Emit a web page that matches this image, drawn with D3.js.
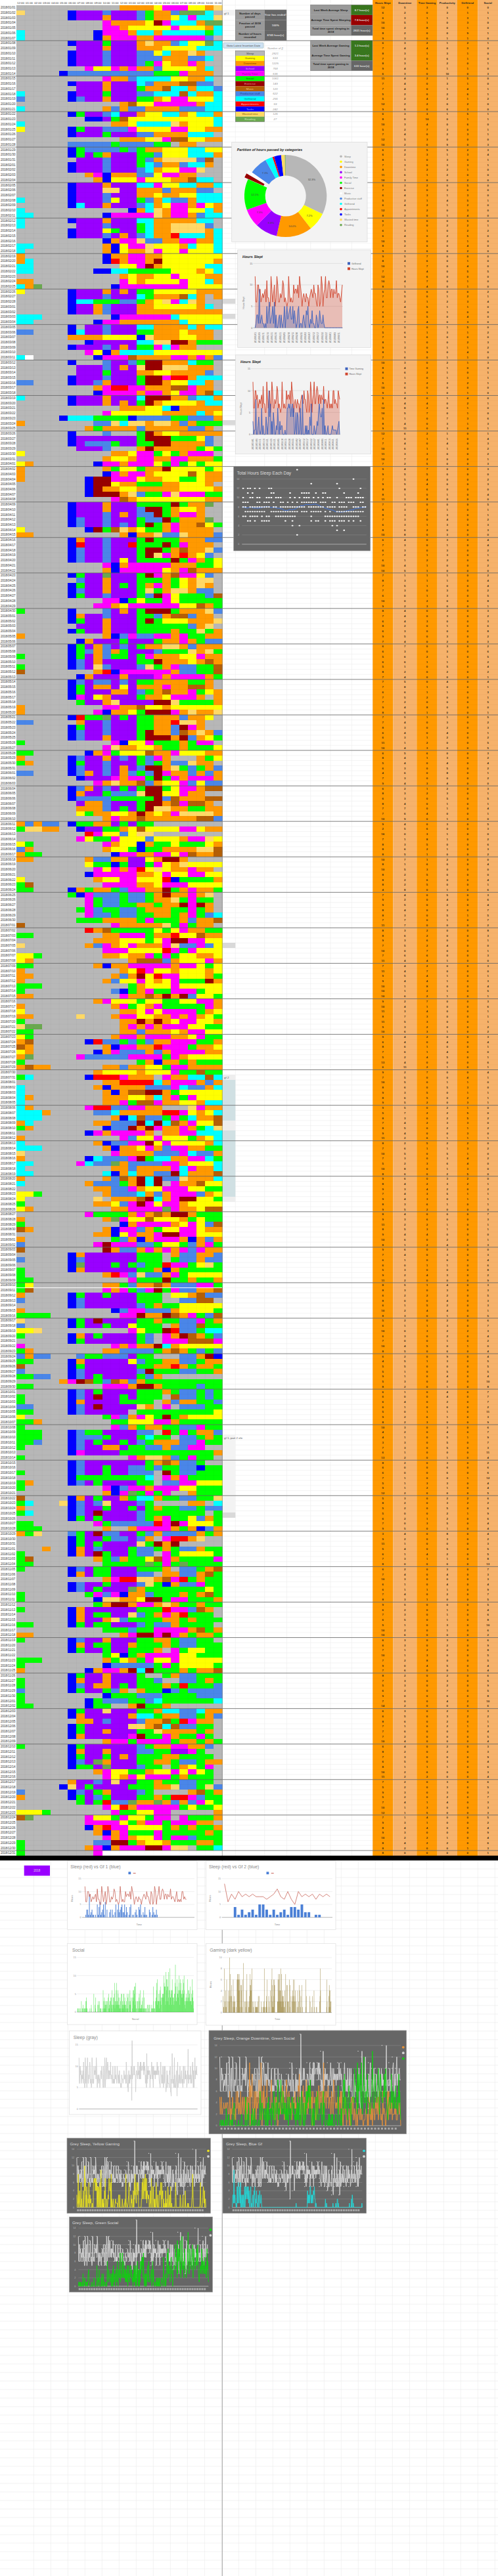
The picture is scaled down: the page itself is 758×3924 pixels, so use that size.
<!DOCTYPE html>
<html><head><meta charset="utf-8">
<script src="https://cdn.jsdelivr.net/npm/d3@7/dist/d3.min.js"></script>
<style>html,body{margin:0;padding:0;background:#fff}svg{display:block}text{font-family:"Liberation Sans",Arial,sans-serif}</style>
</head><body><div id="c"></div>
<script>
// ---------- DATA ----------
const hourLabels=["12:00","01:00","02:00","03:00","04:00","05:00","06:00","07:00","08:00","09:00","10:00","11:00","12:00","01:00","02:00","03:00","04:00","05:00","06:00","07:00","08:00","09:00","10:00","11:00"];
const categories=["Sleep","Gaming","Downtime","School","Family Time","Social","Exercise","Music","Productive stuff","Girlfriend","Appointments","Tasks","Wasted time","Reading"];
const categoryKeys=["s","g","d","c","f","o","e","m","p","h","a","t","w","r"];
const categoryColors=["#b7b7b7","#ffff00","#ff9900","#9900ff","#ff00ff","#00ff00","#980000","#b45f06","#4a86e8","#00ffff","#ff0000","#0000ff","#ffd966","#6aa84f"];
const categoryTextColors=["#444","#7f6000","#7f3f00","#d5a6ff","#a000a0","#006600","#e6a0a0","#f0c080","#1c3f8a","#007070","#ffb0b0","#a0a0ff","#7f6000","#c8e6b0"];
const categoryCounts=[2821,633,1225,768,636,1061,149,120,622,256,59,242,126,27];
const tableHeaders=["Hours Slept","Downtime","Time Gaming","Productivity","Girlfriend","Social"];
const tableKeys=["s","d","g","p","h","o"];
const gf2Sleep=[13,6,9,7,10,8,9,8,9,8,8,8,7,8,9,11,8,7,10,7,5,10,8,9,8,9,7,9,8,9,8];
const gf2Hours=[0,0,0,4,1,3,1,2,3,1,5,5,3,1,3,1,2,3,1,4,4,3,5,2,2,0,1,1,0,0,0];
// each day: run lengths of the 24 hour cells, letter = category key, n = empty
const jan=["12s4d1g3f2g1d1w","1w5s1t3c1p3c1p1o2d1p3r1h1s","6s1t3c1d3c1p1o2d1g1h1f2h1w","10s1f4d1g1e1f3h1d2r","10s2f1d5g1f3g1d1h","1h8s1t3f1d2h1d5h1o1h","1h8s1t1d3f2d6f1p1s","6s1t3c1o3c1d1w2d1p1h2g1r1h","7s3c1d3c3d4g3h","6s1t3c1p3c2p1g1h2d1w1d2s","6s1t3c1p3c3p3d2p1h1s","6s1t3c1p3c1p1o1f1g2d1f1d2s","8s1f2g1f1d1f2d1p4g1d1h1s","5s1t10p3o1f3d1s","10s1f2d1p4h2g2d1h1s","6s1t3c1d3c1h1p3d2m2p1s","7s3c1d3c1o2d1m2h1d2h1p","1h5s1t3c1o3c2p3h1m1h2d1h","1p5s1t1p2c1d3c2o1d1g2f3g1h","12s1d1m2g5f1d2h","1h9s1d1p1d2p4d3p2h","6s1t1o2c1p1h2c1d2g2h1d1g2h1d","8s2t1c1o1m10g1h","1h10s2d1g4h1w1d3g1h","1g5s1t1o2c3p1f4g2f2g2d","6s1t3c1o3c2p4d3h1s","12s3d1g1w1f2m2g2d","6s5p1o4p2o1s2d3s","6s1t1o4p1o1p1o2d3g2h2g","6s1t1o1c1o1d3c2o1p3g3h1d","7s3c1p3c1o1p1d4w1p1m1s"];
const feb=["6s1t3c1p3c1o1h1p2d1p2h1d1s","6s1t3c1p3c1p1h1d2g2f1w2s","8s1d1f1t3d2p1g2f2d3s","9s1d1t3g1f3g2d1m2h1s","6s1t3c1d3c2h1f2g2h2d1h","6s1t3c2w2c3d1p3d2p1s","6s1t3c1p3c2d1g2d2g3h","1h5s1t3c1p1g2c1o1p1d1h2p1d3h","6s1t1h2c1d3c1p1h1d1g2f1d1f1g1d","1h12s1t1d1h1w1d2f2g1h1d","2h8s1t5f1w1d2f1d1p2h","1h5s1t3c1d3c2h5d2h1s","1h6s3c1p3c1o1h2d4w1p1s","6s1t3c1g1o2c1o1h2d4w1d1h","6s1t3c1p1c1d1c1p1h2d1a3h1d1h","10s1t1d2f1w2p2d2f2d1h","2h8s1d1t1g2f1w3g1d1h2g1h","1h9s1d1t1g2d1w1f2g1f3g1h","1d9s1t2d2f2d7g","1d1h8s1t1a1d2f1d1e6g1d","2h9s1s2g1f1e1d5g2h","2h7s2t2h5o3g1d1g1h","12s1d1g2d2g1f3g2d","2d10s1f1g1d4g1f2g1h1d","1h1d1r8s1t8f4g","1g5s1t3c1d1c1d1c2o5g3d","6s1t3c1p3c1h1o3d1m1h1d1s1d","6s1t2h3o2p1o1d1g1w1f1h1w1d2s"];
const mar=["6s1t2c1d1p3c2d5g1d1h1s","6s1t2c1d1p3c10d","3h8s1t6f1h5g","2h7s1t2f1d6d1h4g","6s1t1s2c1p3c2h4d1h1d2h","2p4s1t1h2c1p3c2o3d1g3d1s","6s4d4g1t1w3d2g2d1s","8s1t5c2h2w2e1d3o","6s1t3c1p1c1d1c2o1f1h1f2d3s","8s1f1g1t1d4h8g","1h1n7s1t3f1m4d2f1d1f1d1p","6s1t3s1p2c1p1o2e3d1h2o1s","7s3c1p1c1d1c1w2e3w3d1s","7s3c1o3c2d2g4d1p1s","6s1t3c1p3c1o2e1f2a1d3h","2p4s1t2c1p1d3c1o2e1d2g2h1d1s","9s1d1f2a2f3d2m1f2d1s","9s1t4f1d2f1d1g2f1d1m1h","1h5s1t3c1d3c1h3e2d1p2h1d","6s1t3c1d1c1d1c1o1e1d4g1d2h","12s3d2g1h1t5d","10s1f6g3d1d1h1d1g","5s1t3h4o1t4p2o3p1d","1d8s2p1w1h2w1d2w1d1p1d3o","8s1d1o4d1p5d2p1d1s","6s1t3s1p3s1o1e1d2g5d","6s1t7c1o3e3o1g1p1s","6s1t1c3p1o2c2o2e4d1p1s","7s3c1p3s1d1e5d1o1g1o","1g10s2d1g2f1o1g1o1d3f1s","10s1d2g1d2f2d2f3d1o"];
const apr=["1g1d7s1t2f1d3f1g1o1f1o1g1o2g","1d9s1d1o2g1o2d1e4g1o1g","1d9s1t1f1d2f1d4g1m1g2d","1d7s1t2e3f1g2d2g2o1g2d","8s1t2e1g2d3o2d3g1d1s","8s1t1e1d1d2g5d4g1d","8s1t3e1d1w1p2o1f1w3f2o","11s1f1m1d8g2d","6s1t3c1d3c4o1e1o2d1r1s","6s1t3c1d3c1p2e1o1d2g1d2s","6s1t3c1p1c1d1c2p1e1o1d2f1d2s","6s1t1p2c1p3c1o2p1e1o3d1r1s","6s1t1p2c1p1c1p1c1o1e1o1d1f2d1m1g1o","1g7s1t1e1o1m1w1d1g2o1d1f4d1s","2d10s1d1t2d1w2p1w3d1p","6s1t1d2c1p3c1o1e3o3d2p","6s1t1a2c1p2c1a3o1e1o1f3d1s","6s1t1p2c1p3c1o2e1o1d1m2d1w1p","6s1t1p2c1p3c1o1e1w1f1d1a1d1g1p1s","6s1t1p2c1p1c1g1c4o1e1o1f1d1o1g","10s1f1t1d5f3d2o1g","10s1d1t5f1g1d1f1m3d","6s1t1o2c1r3c1o1e1f1d1m2f1g1p1s","7s1p2c1d3c3o1d1o1g1d2w1s","6s1t1o2c1d1c1o1c1o1d1f1d1o1g1d1w1d1s","6s1t1p2c1d3c1o1w1o1d2w1d2p1s","6s1t1o2c1p3c1o1p1e1f1g3o1p1m","10s2f1t1o1g2o1f1g5o","9s2f1d1g6f2g1m1d1o","1o5s1t3s1p1c1d1c1o3e1o3d1w1p"];
const may=["6s1t1d2c1p3c2o1p1d2m1p1d1d1s","6s1t1o2c1d3c1o1e1o3g3d1w","7s3c1d3c6o1p1d1w1s","6s1t1o2c1d3c4o1d2o1w1o1d","1d9s1d1t1p1f2p2f1d1f2o2d","7s1t1d3c1o3c1o2d1f1d1o2p","6s1t1o1c1d1p1c1p1c1o2d2w1d1p3d","6s1t1o1p1d1p1d1o1c2c1p3o1w1d1w1o","1o5s1t1o1c1d1p2o1c1o1f3d2g1f2d","6s1t1p1c1d4c2o1e3d1g1d1m1d","1o5s1t1p1c1w1p3c1p1w1o1d1f2p2o1m","1m8s1d1a1t5f1f1d2p2o1m","7s1t1d3c1d3c1f1d4f1d1o","6s1t1p1c2p1c1p1c2o4d2o1d1s","6s1t1o1c2d1c1g1c3d1f2d2m1d1s","6s1t1o3c2d1c1p1o1d1m2d1f1o1g1d","6s1t1f1c1g1d3c1o2d1g3f1d1s1d","7s1o2c1d1w4c2e1w4o1d","1d9s2f2d1m2g1d6g","1d8s1f1t2d1g1o3e1f1d1w2d1w","6s1t1a2o1r1c1o1c2o3d1p2d1g1s","2p5s1d2c1p3c2o2d1a2w1d2s","6s1t1o2c1p3c2o2d1p1e1f1d2s","6s1t1p2c1p3c1o1e2d1p1m1d1w1d1p","6s1t1p2c1d3c1o3e1d1e1p1d1g1o","1o10s1f1t2g1f3o1d1o2f1s","10s1f1w2d2g1d2o1d3o1g","2o6s1t1d1f1o3g1m2d1f3g2d","1d5s1t1p2c1d1c1p1c1o1p1f1d3s1d1o1g","1o1d4s1t1o2c1p3c1o1p1o1d2p1w2d1s","6s1t1p2c1p1c1d1c1p2e1d1w1o1p1o1d1p"];
const jun=["2p4s1t1p1d1c1p1c1d1p1o1p1e1f2d1p1d1p1d","7s1t3c1f1d2f1o1e1o1f1d3f1d","9s1f1d1w2d1m1p1d2g1f1p1g2p","6s1t1p1d1c1p1c1o1c1o2e1o1g2f1d2m","6s1t1d2c1o3p1w2e2g1f2d2s","6s1t4p5o1e1p1m3d2m","7s1c2d1p3c1o2e1d1m1f2m1d1s","7s3d1p1c1o1c1o1e2w2d2o2d","7s1g1o2d2g1d1e1d1g1d1f4w1d","10s1d1f2d1m6d2m1p","1d1p1d2p1s1t2o2d1c1o1c2o8s","1o2w2d2s1t2c2o1d1g1m4g2f1g2d","8s1a1f2g1p1g2w8s","7s1f1g2o1f3g1p3g1d2f1w1g","1g1o8s1f1d2g1t1d2o1g3o1g1d","1p1d8s1d2g1o1t2o4d2w1m","1d2o8s1t2f2d2f1g1f1m2d1m","2d6s1d2p2d2c1g1d2e1d4s","8s1g2o1t1o2c1o1f1g1d1w4g","9s1f1g1f1d1f1a1g1w1g2d1f2d1s","8s1t5f2d1g1f2g2f2g","1g8s1d2g2f3g1a1t4o1d","1o1m8s4f2d1g3f4g","2o4s1t1d1o2d1o1p2f2d1e1o1d1f2d1o","6s1o1t1f3p1o2p1o1d1e2d1f1d1w1s","8s1f1o2p1o2p1o2d1w1o1f2o1s","8s1f1o2p2o2d1o2d1e1f1e1d1s","7s1o1f1p2o2p1o3d2o1f1o1d1s","8s1f2p1o2p2o2d1o1d1f1o1p1h","7s3o4d1o1f3o1d1p2d1m"];
const jul=["1m10s1f5d1w1o1f1o2d1s","8s1a1d1m5o1g1o1g1f2d2o","2o8s2d3f1o2d1a2g1m2d","9s3d3g1o1g1f2e2f2g","1w7s1d1p1f1d1g1f3d1f1w2p1f1p1g","10s3f4g1a1f1o1f3g","2g1o7s2d1g2d1f1o1f1o2g2d1g","1g1d11s1d3m1p1d3g1f1d","2o7s1d1t2d5f1d2f1g1o1g","1d11s1d1g1a1f2g1d3g1d1g","2d9s1d1p1d1e1g1a2f3g1d1o","1d9s1d1p2g1f1g1d1g1f3o1e1d","3o10s1o1d3g1f5g","1o10s1p1t1o1d1f2o3f1o2g","2d10s1f2d1m1d1e1d1e1p2g1o","9s1d1f3g1o2g2o2g2f1d","1d10s1d1f1o1g1d1f5o1f1d","1g11s2d1g1f1g4f1o1d1g","2d5s1w3s1d2f2g2d1f1d1f1d1g1o","1o11s2d1e1d1e1d1g2f2g1d","1w2r9s1d1f1d1f1d3f2g2o","2o10s2d1p3d1g1d2f2g","1g1o9s1d2f1d3f2d1g1f2o","1d1m6s1t1a2p1o1p1o1p2d3f2o1d","1m1d8s1d1t2f2d1a3f1o2d1g","1g1d7s1t1d1f3p1d1p1d4f2d","1d1r5s1f5p4f1o1f1d4g","1o13s1o1d1t2d1o1d3o","1d1m2d6s2d1p2d2g1o2f4d","9s1d4g1d3g1f2o1m2o","1o1h6s1t3a1f3d1s1f2d2h1m1h"];
const aug=["10s2d4a1h1d3f1d1p1d","1h8s1d1t4d3p1f1h2p1d1h","1h9s1d1t1d2m2e1d1o5g","1h1d8s3d2g1d1h1d1f1o1f3g","1h9s2d1f1o2m1f2d2g1d2h","1h1d6s1f2a2p2f2d3s1w1f2d","3h1d5s2p1h5d2a1f1g1d1g1h","3h8s1d1t1h1m2p1o1f1o1h2d1m","1d1h7s2d3p1e1h1e1h1m1d1f2g1m","1o1d8s1t2p1e1d1e1f2d1f1d1o1h1w","8s1t1f1d4f1d1s2d2f3h","1d11s1f1p2g1f3g1o1d1g1h","1h8s1d1t2p2f1e1g1f4g1d1h","3h7s1d1t2d1g1f1d1p2f2d2o","1w10s1f4d3p1f1h2p1d","1d7s1t1h3p1f1e1o2h2d2f1h1o","2h5s1f1h2p1r1d4p2f1d3g1h","1h10s2d1p4d1f1h1f2d1h","2h8s1h1t1d1h2d2p1e1h3d1m","1d9s1d1p1m1d1e1h1e2p1w3d1h","1h7s1d3p1o1d1e1h1e1s1f2d1m2g","9s2d2p1f1d2g3f2g2o","2g1o7s1d3p1h1d1p1d3f1p1d1g","1g8s1w1s3d1m1e1h1d1f2e2g1o","1o8s2d1g1p1f1e1f1g2f1d4g","1g1d9s2d4f1r1f2d1g2m","8s1f4o1d1f1d1m1d2e1d3o","1d9s1d1r1f2g1m3g1d1o1g2o","1o11s1t1d4f1d1g1f1g1p1m","1m1d8s1d1t2f1p1d1o2g2f1g2d","9s2d1t1g1f2d1f2e2f3g"];
const sep=["1d10s1o1p1d1t1d3f1d1t1d1p1d","1p8s1f1e3f2p1o2g1o1p1d1f1o","1m9s1e1d2p1d1f1d1f1d1f1p1f2d","6s1t1d6c3o1s1d2p2d1p","1p5s1t1p6c3o1s1o2p1d2p","6s1t1r3c1o1c1o1p2o1a2f1o1g1w1o","1o5s1t1d6c2o1d1t1d5o","1o9s1d1a1f1p1w2p1d1f1o4g","2o11s1f3o1e2o1d2o1d","1o1g8s2d1o1p2d1m1d3p2f1o","1o1m8s1f1d1f1o1p1f1e1o1f2p2d1m","1d5s1t1o2c1o3c3o1s2g1d1m2p","1p5s1t1p6c3o2s2p2m1s","6s1t1p6c1p1o1d2o5g","1d10s1t1p2f3p1d4g1o","4o8s2f1e2d1e1m1d1f1o1p1m","1w5s1t1o1c1e4c2o1d2o2p1f1o1d","1p5s1t1o2c1o2c1g3o1s1d2p1m2o","2g1w10s1f1g2o1e1a2p1o2h","1o5s1t1d1c1o4c1o1p1s1f1d1e1m1d1o1p","6s1t1o6c1o1p1s3f3m1f","1f10s1f1d1f2d1e1h1d5g","1o1d8s2d4p1o1d1m1d1o1p1o1p","1p1d2p3s1p2o3p1c2o3s2p1d1e1t","2o4s1t1d5c1g1p2o2d2p1o2d","1m5s1t1o6c2o2d1a1d1o2d1o","1p5s1t1p6c1p1e3o2p2o1d","2o2p2s1t1p1c1o4c1o1p1d7s","5s1d1f1e1m1o1p1m1d1p1d9o","2o8s3f1d2e1d4o1p2o"];
const oct=["6s1t1p1c1o4c3o1d1o2p1o1p1o","1o5s1t1p1c1e2c1o1c3o1s1m2p1o1p1o","1o5s1t1d4c4o1s1d1p2d2o1p","2p4s1t1p1c1e4c1w1d1s1f1s3p2o","2o4s1t1p5c1s9o1g","1g9s1o1f1p1d1f1g1o1e1o1d4g","2o1d8s2o3g2f1d5o","1o10s1f1p1d1o2d2o2p1f2o","3o3s1t1p2o4c2p1s1a1o1f1o2d1p","3o3s1t3p1o3c1o1h2o1s2p1o1d1o","2o1p3s1t1p1c1o2c1o1c1p1o3d2p1f2o","1o5s1t1p2c2d1c2o2p1d2p2f2s","6s1t1f4c11o1d","1o12s1f1d2w1d1p1o1f2o1s","6s1t1p7c1o1d1m1d2p1o2s","6s1t1p2c1o2c2p1o1p2o2p1t2o","1o5s1t1p2c1o2c3p1s1e1o2p3o","6s1t8o1h1s1f1d1f4o","1o1d4s1t1p1c1o4c2o1s2p2f3g","1o9s1f1t1p2f1d3f2g3o","10s1d1t1f1r1o1f1o1f2s1d3o","1m5s1t1d1c1o2c1d1o2h1d2o2p2o1w","1o1h3s1w1t1p1c1p1w3c1p1o4s2d1s1h","1d5s1t1p2c1o2c1o1c1o1d2o2p1o2p","1o1h4s1t1p1c1e4c1p7o1s1o","6s1t1o1c1o4c1p1o1d1f2o1g1p1d1o","2o7s1f1o5p1a1f1e1f3g1o","3o7s1d2s1d4f1d1o1d1t1p1d","1d1o1w3s1p1o1c1e2p2c1o1p1d4p1d1o1d","6s1t1o2c1o2p1c1p1d1s1f2a1d1w2s","6s1t1o1c1o4c1w1o1e1d1e5s"];
const nov=["3s1d2s1t1d1c1p3c1o2p1o1d1o2p1d2o","1o5s1t1d1c1e1o2c1o2p1s1f1o4g1o","1o1m7s1d1o1p1d2o1g1m1f1d4o1f","2o8s5o1r1o1f1o1r4o","1o5s1t1p1c2o3c3o1d1s2p1o1d1m","6s1t1d1c2o3c2p1s2d2p1d1m1o","10s1d1f2a2w1d1m1f1a1o1d2o","6s1t1p2c1o3c1p1w1o1t1d2p1f2o","6s1t1p1c1o3c1r1d7o1g1o","1o7s1o1f1p1f1t2d1p3o1d1o1d1m1o","1o8s1t2w2d1g2e1o2f3o1d","9s1o1d2e1d2f1d1w1d2o1d2o","1o5s1t1d6c3o1a2f1p1m1d1s","6s1t1d1c2o2c1w1p1o1d1f1d1a3o1s","6s1t1d2c1d1w1p4o2d1o1d3o","2o4s1t1o1c2o3c1p1o2p1d4o1s","10s3o1p2o4f1d1m1o1d","2d10s1d1f2e1f1e1f1d1o2d1o","1o5s1t1p2c1d3c2o2d1o2p2o1s","6s1t1d1c2o2c1d3o1d1o2p3o","6s1t1o2c1o2c3o1d1s1f1o2g2o","10s1o1g1t1o1d4f2g3o","3o7s1d1o1g1d1o1f2g1f5g","1o9s1t5p1o1f1o4g1o","1d7s1t1d2f1d1e1h1e3o1d1o2d1m","6s1t1o2c1d3c1o2s1o1d2p3o","1o5s1t1d2c1d3c2o1p2s2p1o1d1o","1o5s1t1p1c2d1c1o1c3o1d1o1a3o1p","1p5s1t1o2c1o1p1d1s1d2o1t1p1o4p","1o9s1t3o3p4o3p"];
const dec=["1o7s1t1o3p2o1p1h6o1h","2o6s1t2o2s1d1e2o1d6s","6s1t1o2c1w3c2o1d2h2p1h2d","6s1t1d5c1d2h1o2d2p1o1d1p","7s2d1c1p3c1p2d1m1o1a1f2d1s","6s1t1o5c2w1d1m1h1m2p2o1s","6s1t1o2c1d3c2o1w4d1o1d1s","6s1t1d5c1f1e2o1f1d2o1f1o1s","10s1d2f1o4f1o2d1o1d1o","1o5s1t1o6c1p1o2d2f2d1p1s","6s1t1d2c1d3c2p2o2c1f1o2s","6s1t1o2c1o1c1d1c3o2d4o1s","6s1t1p1c1r1d3c2o2d1o2p1o2d","6s1t2o1c1r3c1p2o1s1o1d1g1o1f1s","9s1d1f2g2o1d2g1f1g1f1g1o1s","10s1f1g1d1f1g3f1o1d3o1s","6s1d2c1p1c1w2c2o1d2o2p2o1s","5s1t1w1c1o4c3o2d1w2p1o1w1p","1p5s1t1p1c1o1d3c1p1o4s1d1m1o1d","1d5s1t1o1c1p1o3c2o1d1o2a1f1p2o","7s1o1c1o1a2p1r2d1r1d1p1d1p1f1g1o","10s1f1g1a1d5f1o1g2o1g","3g1o7s1f2o2g2f5s1d","1m1r6s1f2g1o1f2g1o2f1s1f3o1d","8s4f1g1o1d2f1o3f2d1s","8s1t1d1a2f4g1o1d1o1d2o1d","9s1d1t1d1f3o1f5o1d1o","10s1f1d1f1d2g1f1o2f1p3o","1o8s2p2e1o1d2g1d3o2d1o","1o7s1d1f1t1d3f2e1f2w1s2o1h","1o8s1f14n"];
const schedule=[].concat(jan,feb,mar,apr,may,jun,jul,aug,sep,oct,nov,dec);

// ---------- DERIVED ----------
const parseRow=r=>{const o=[];for(const m of r.matchAll(/(\d+)([a-z])/g))for(let i=0;i<+m[1];i++)o.push(m[2]);return o.slice(0,24);};
const grid=schedule.map(parseRow);
const dayCount=k=>grid.map(g=>g.filter(c=>c===k).length);
const table=tableKeys.map(dayCount);
const hoursSlept=table[0],downtime=table[1],gaming=table[2],girlfriend=table[4],social=table[5];
const days=d3.timeDay.range(new Date(2018,0,1),new Date(2019,0,1));
const fmtDate=d3.timeFormat("%Y/%m/%d");
const colorOf=d3.scaleOrdinal(categoryKeys,categoryColors);

// ---------- LAYOUT ----------
const W=758,H=3924;
const svg=d3.select("#c").append("svg").attr("width",W).attr("height",H).attr("viewBox",[0,0,W,H]);
svg.append("rect").attr("width",W).attr("height",H).attr("fill","#fff");
const hourX=d3.scaleBand().domain(d3.range(24)).range([25,338.3]);
const dayY=d3.scaleBand().domain(d3.range(365)).range([7.84,2826.6]);
const colX=[338.3,358.3,402.7,436.5,472.7,503,535.5,567.3];
const tableEdges=[567.3,598.3,634.3,665.7,696,727.3,758];

// sheet background grid
const bg=svg.append("g").attr("stroke","#ececec").attr("stroke-width",.6);
bg.selectAll(".r").data(d3.range(365)).join("line").attr("x1",338).attr("x2",567).attr("y1",d=>dayY(d)).attr("y2",d=>dayY(d));
bg.selectAll(".c").data(colX).join("line").attr("x1",d=>d).attr("x2",d=>d).attr("y1",0).attr("y2",2827);

// side notes
const notes=[[15,8,"#f3f3f3"],[455,7.7,"#d9d9d9"],[478,7.7,"#d9d9d9"],[640,7.7,"#d9d9d9"],[1436,8,"#d9d9d9"],[1637,8,"#eeeeee"],[1645,62,"#d0e0e3"],[1707,15,"#eeeeee"],[1722,101,"#d0e0e3"],[1823,8,"#eeeeee"],[2186,118,"#f3f3f3"],[2304,8,"#d9d9d9"]];
svg.append("g").selectAll("rect").data(notes).join("rect").attr("x",339).attr("width",19.3).attr("y",d=>d[0]).attr("height",d=>d[1]).attr("fill",d=>d[2]);
const noteLabels=[["gf 1",341,21.5],["gf 2",341,1643],["gf 1, part 2 ele",341,2191.5]];

// header
svg.append("g").selectAll("text").data(hourLabels).join("text").attr("x",(d,i)=>hourX(i)+hourX.bandwidth()/2).attr("y",5.5).attr("text-anchor","middle").attr("font-size",4.4).attr("fill","#333").text(d=>d);

// schedule
const cells=svg.append("g").attr("shape-rendering","crispEdges");
grid.forEach((row,i)=>{
  cells.selectAll(null).data(row.map((c,h)=>({c,h}))).join("rect")
   .attr("x",d=>hourX(d.h)).attr("y",dayY(i)).attr("width",hourX.bandwidth()+.3).attr("height",dayY.bandwidth()+.3)
   .attr("fill",d=>d.c==="n"?"#fff":colorOf(d.c));
});
const cellLines=svg.append("g").attr("stroke","#000").attr("stroke-opacity",.05).attr("stroke-width",.5);
cellLines.selectAll(".h").data(d3.range(24)).join("line").attr("x1",d=>hourX(d)).attr("x2",d=>hourX(d)).attr("y1",7.8).attr("y2",2826);
cellLines.selectAll(".v").data(d3.range(365)).join("line").attr("x1",25).attr("x2",338).attr("y1",d=>dayY(d)).attr("y2",d=>dayY(d));
// dates
svg.append("g").selectAll("text").data(days).join("text").attr("x",1).attr("y",(d,i)=>dayY(i)+dayY.bandwidth()/2+1.6).attr("font-size",4.5).attr("fill","#333").text(fmtDate);
// table
const tbl=svg.append("g");
tableKeys.forEach((k,j)=>{
 tbl.append("rect").attr("x",tableEdges[j]).attr("width",tableEdges[j+1]-tableEdges[j]).attr("y",0).attr("height",2827).attr("fill",j%2?"#f6b26b":"#ff9900");
});
const tableLines=svg.append("g").attr("stroke","#000").attr("stroke-opacity",.06).attr("stroke-width",.5);
tableLines.selectAll("line").data(d3.range(366)).join("line").attr("x1",567).attr("x2",758).attr("y1",d=>d===365?2826.6:dayY(d)).attr("y2",d=>d===365?2826.6:dayY(d));
tableKeys.forEach((k,j)=>{
 const cx=(tableEdges[j]+tableEdges[j+1])/2;
 tbl.append("text").attr("x",cx).attr("y",5.5).attr("text-anchor","middle").attr("font-size",4.2).attr("font-weight","bold").attr("fill","#222").text(tableHeaders[j]);
 svg.append("g").selectAll("text").data(table[j]).join("text").attr("x",cx).attr("y",(d,i)=>dayY(i)+dayY.bandwidth()/2+1.6).attr("text-anchor","middle").attr("font-size",4.4).attr("font-weight","bold").attr("fill","#3a2a10").text(d=>d);
});
// week rules and right border
svg.append("g").attr("stroke","#666").attr("stroke-width",.8).selectAll("line").data(d3.range(7,365,7)).join("line").attr("x1",0).attr("x2",W).attr("y1",d=>dayY(d)).attr("y2",d=>dayY(d));
svg.append("line").attr("x1",25).attr("x2",338).attr("y1",dayY(253)).attr("y2",dayY(253)).attr("stroke","#fff").attr("stroke-width",1);
svg.append("line").attr("x1",338.3).attr("x2",338.3).attr("y1",0).attr("y2",2827).attr("stroke","#888").attr("stroke-width",.7);
svg.append("g").selectAll("text").data(noteLabels).join("text").attr("x",d=>d[1]).attr("y",d=>d[2]).attr("font-size",4.4).attr("fill","#555").text(d=>d[0]);

// info panels
function multi(sel,lines,x,y,lh){lines.forEach((l,i)=>sel.append("tspan").attr("x",x).attr("y",y+(i-(lines.length-1)/2)*lh).text(l));}
function infoPanel(x0,x1,x2,rows){
 const g=svg.append("g");
 rows.forEach(r=>{
  g.append("rect").attr("x",x0).attr("y",r.y0).attr("width",x1-x0).attr("height",r.y1-r.y0).attr("fill","#999");
  g.append("rect").attr("x",x1).attr("y",r.y0).attr("width",x2-x1).attr("height",r.y1-r.y0).attr("fill",r.c||"#666");
  const cy=(r.y0+r.y1)/2+1.5;
  multi(g.append("text").attr("text-anchor","middle").attr("font-size",4.3).attr("font-weight","bold").attr("fill","#222"),r.l,(x0+x1)/2,cy,5.2);
  g.append("text").attr("x",(x1+x2)/2).attr("y",cy).attr("text-anchor","middle").attr("font-size",4.3).attr("font-weight","bold").attr("fill","#ddd").text(r.v);
 });
 g.append("rect").attr("x",x0).attr("y",rows[0].y0).attr("width",x2-x0).attr("height",rows[rows.length-1].y1-rows[0].y0).attr("fill","none").attr("stroke","#777").attr("stroke-width",.6);
}
infoPanel(358.3,402.7,436,[{y0:15,y1:30.6,l:["Number of days","passed"],v:"Year has ended!"},{y0:30.6,y1:46.1,l:["Fraction of 2018","passed"],v:"100%"},{y0:46.1,y1:61.7,l:["Number of hours","recorded"],v:"8745 hour(s)"}]);
infoPanel(472.7,534.3,567,[{y0:7.3,y1:22.9,l:["Last Week Average Sleep"],v:"8.7 hour(s)",c:"#38761d"},{y0:22.9,y1:38.4,l:["Average Time Spent Sleeping"],v:"7.8 hour(s)",c:"#990000"},{y0:38.4,y1:54,l:["Total time spent sleeping in","2018"],v:"2821 hour(s)"}]);
infoPanel(472.7,534.3,567,[{y0:61.7,y1:77,l:["Last Week Average Gaming"],v:"1.3 hour(s)",c:"#38761d"},{y0:77,y1:92.4,l:["Average Time Spent Gaming"],v:"3.4 hour(s)",c:"#38761d"},{y0:92.4,y1:107.7,l:["Total time spent gaming in","2018"],v:"633 hour(s)"}]);
svg.append("rect").attr("x",340).attr("y",65).attr("width",61).attr("height",8.3).attr("rx",1).attr("fill","#cfe2f3").attr("stroke","#8aa").attr("stroke-width",.5);
svg.append("text").attr("x",370.5).attr("y",71).attr("text-anchor","middle").attr("font-size",4.4).attr("fill","#444").text("Goto Latest Insertion Date");
// category legend
const legY=d3.scaleBand().domain(d3.range(14)).range([77.3,185.4]);
const lg=svg.append("g");
lg.selectAll("rect").data(categories).join("rect").attr("x",358.3).attr("width",44.4).attr("y",(d,i)=>legY(i)).attr("height",legY.bandwidth()).attr("fill",(d,i)=>categoryColors[i]);
lg.append("rect").attr("x",358.3).attr("width",44.4).attr("y",77.3).attr("height",108.1).attr("fill","none").attr("stroke","#777").attr("stroke-width",.6);
lg.selectAll("text.n").data(categories).join("text").attr("x",380.5).attr("y",(d,i)=>legY(i)+5.4).attr("text-anchor","middle").attr("font-size",4.4).attr("fill",(d,i)=>categoryTextColors[i]).text(d=>d);
svg.append("text").attr("x",419).attr("y",75).attr("text-anchor","middle").attr("font-size",4.3).attr("font-style","italic").attr("fill","#999").text("Number of []");
svg.append("g").selectAll("text").data(categoryCounts).join("text").attr("x",419).attr("y",(d,i)=>legY(i)+5.4).attr("text-anchor","middle").attr("font-size",4.4).attr("font-style","italic").attr("fill","#999").text(d=>d);

// panels helper
function panel(x0,y0,x1,y1,fill,stroke){return svg.append("rect").attr("x",x0).attr("y",y0).attr("width",x1-x0).attr("height",y1-y0).attr("fill",fill).attr("stroke",stroke).attr("stroke-width",.7);}

// donut
panel(352.7,216.7,559,368.3,"#f3f3f3","#d9d9d9");
svg.append("text").attr("x",360.7).attr("y",230).attr("font-size",5.3).attr("font-weight","bold").attr("font-style","italic").attr("fill","#222").text("Partition of hours passed by categories");
const donutColors=categoryColors.map((c,i)=>i===7?"#ffffff":c);
const pie=d3.pie().sort(null)(categoryCounts);
const arc=d3.arc().innerRadius(31).outerRadius(62.6);
const dg=svg.append("g").attr("transform","translate(434.7,298.5)");
dg.selectAll("path").data(pie).join("path").attr("d",arc).attr("fill",(d,i)=>donutColors[i])
 .attr("transform",(d,i)=>{if(i!==6&&i!==7)return null;const m=(d.startAngle+d.endAngle)/2;return `translate(${Math.sin(m)*6},${-Math.cos(m)*6})`;});
const total=d3.sum(categoryCounts);
dg.selectAll("text").data(pie.filter(d=>d.value/total>.05)).join("text").attr("transform",d=>`translate(${arc.centroid(d)})`).attr("dy",1.5).attr("text-anchor","middle").attr("font-size",4).attr("fill","#444").text(d=>d3.format(".1f")(d.value/total*100)+"%");
const dl=svg.append("g");
dl.selectAll("circle").data(categories).join("circle").attr("cx",519).attr("cy",(d,i)=>238.3+i*8.03).attr("r",1.8).attr("fill",(d,i)=>donutColors[i]);
dl.selectAll("text").data(categories).join("text").attr("x",524).attr("y",(d,i)=>239.8+i*8.03).attr("font-size",3.9).attr("fill","#777").text(d=>d);

// area charts
const RED="#d0432b",BLUE="#3d62bd";
function areaChart(o){
 panel(o.box[0],o.box[1],o.box[2],o.box[3],"#f3f3f3","#d9d9d9");
 const g=svg.append("g");
 g.append("text").attr("x",o.tx).attr("y",o.ty).attr("font-size",5.5).attr("font-weight","bold").attr("font-style","italic").attr("fill","#222").text("Hours Slept");
 const n=o.a.length;
 const x=d3.scaleLinear().domain([0,n-1]).range([o.px0,o.px1]);
 const y=d3.scaleLinear().domain([0,15]).range([o.py0,o.py1]);
 g.selectAll("line.g").data([0,5,10,15]).join("line").attr("x1",o.px0-3).attr("x2",o.px1+1).attr("y1",y).attr("y2",y).attr("stroke",d=>d?"#ccc":"#888").attr("stroke-width",.5);
 g.selectAll("text.t").data([0,5,10,15]).join("text").attr("x",o.px0-4).attr("y",d=>y(d)+1.5).attr("text-anchor","end").attr("font-size",3.6).attr("fill","#666").text(d=>d);
 [[o.b,RED],[o.a,BLUE]].forEach(([v,c])=>{
  g.append("path").attr("d",d3.area().x((d,i)=>x(i)).y0(y(0)).y1(d=>y(d))(v)).attr("fill",c).attr("fill-opacity",.3);
  g.append("path").attr("d",d3.line().x((d,i)=>x(i)).y(d=>y(d))(v)).attr("fill","none").attr("stroke",c).attr("stroke-width",.9);
 });
 g.selectAll("text.d").data(d3.range(0,n,5)).join("text").attr("transform",d=>`translate(${x(d)+1.2},${o.py0+23}) rotate(-90)`).attr("font-size",3.3).attr("fill","#666").text(d=>fmtDate(days[d]));
 g.append("text").attr("transform",`translate(${o.yl},${(o.py0+o.py1)/2+11}) rotate(-90)`).attr("text-anchor","middle").attr("font-size",3.6).attr("fill","#666").text("Hours Slept");
 [[o.aName,BLUE],["Hours Slept",RED]].forEach((l,i)=>{
  g.append("rect").attr("x",o.lx).attr("y",o.py1-2+i*8).attr("width",4).attr("height",4).attr("fill",l[1]);
  g.append("text").attr("x",o.lx+6).attr("y",o.py1+1.3+i*8).attr("font-size",3.6).attr("fill","#666").text(l[0]);
 });
}
areaChart({box:[361.7,380.7,564.3,529.3],tx:369,ty:392.5,px0:388.3,px1:521,py0:499.3,py1:401.3,yl:371.7,lx:529,a:girlfriend.slice(0,105),b:hoursSlept.slice(0,105),aName:"Girlfriend"});
areaChart({box:[358.3,540.7,564.3,691.7],tx:366,ty:553,px0:385,px1:517,py0:661.7,py1:561.7,yl:368.3,lx:525.5,a:gaming.slice(0,120),b:hoursSlept.slice(0,120),aName:"Time Gaming"});

// dark charts
const weekOf=i=>Math.floor(i/7);
function darkAxis(g,o){
 const y=d3.scaleLinear().domain([0,14]).range([o.py0,o.py1]);
 const t=d3.range(0,15,2);
 g.selectAll("line.g").data(t).join("line").attr("x1",o.px0).attr("x2",o.px1).attr("y1",y).attr("y2",y).attr("stroke",d=>d?"#8c8c8c":"#bbb").attr("stroke-width",d=>d?.5:.8);
 g.selectAll("text.t").data(t).join("text").attr("x",o.px0-4).attr("y",d=>y(d)+1.3).attr("text-anchor","end").attr("font-size",3.6).attr("fill","#bbb").text(d=>d);
 return y;
}
function weekDots(g,x,y,w,h,fill){
 const seen=new Set(),pts=[];
 hoursSlept.forEach((v,i)=>{const k=weekOf(i)+"_"+v;if(!seen.has(k)){seen.add(k);pts.push([weekOf(i),v]);}});
 g.selectAll(null).data(pts).join("rect").attr("x",d=>x(d[0])+x.bandwidth()/2-w/2).attr("y",d=>y(d[1])-h/2).attr("width",w).attr("height",h).attr("rx",h/2).attr("fill",fill);
}
function darkChart(o){
 panel(o.box[0],o.box[1],o.box[2],o.box[3],"#666","#999");
 const g=svg.append("g");
 g.append("text").attr("x",o.tx).attr("y",o.ty).attr("font-size",o.fs||6.2).attr("font-family","'DejaVu Sans',sans-serif").attr("fill","#ddd").text(o.title);
 const y=darkAxis(g,o);
 const x=d3.scaleLinear().domain([0,364]).range([o.px0,o.px1]);
 const wk=d3.scaleBand().domain(d3.range(53)).range([o.px0,o.px1]);
 weekDots(g,wk,y,1.6,.9,"#e8e8e8");
 o.series.forEach(s=>{g.append("path").attr("d",d3.line().x((d,i)=>x(i)).y(d=>y(d))(s.v)).attr("fill","none").attr("stroke",s.c).attr("stroke-width",.95);});
 g.selectAll("circle").data(o.legend).join("circle").attr("cx",o.lx).attr("cy",(d,i)=>o.ly+i*8.6).attr("r",1.9).attr("fill",d=>d);
 g.selectAll("rect.k").data(d3.range(52)).join("rect").attr("x",d=>wk(d)+wk.bandwidth()/2-1.5).attr("y",o.py0+3).attr("width",3).attr("height",3).attr("fill","#aaa");
}
// total sleep per day (weekly bands of dots)
(function(){
 const o={px0:368.3,px1:557.7,py0:829,py1:729.7};
 panel(355.7,710.3,563.7,839,"#666","#999");
 const g=svg.append("g");
 g.append("text").attr("x",360.7).attr("y",723).attr("font-size",6.6).attr("font-family","'DejaVu Sans',sans-serif").attr("fill","#ddd").text("Total Hours Sleep Each Day");
 const y=darkAxis(g,o);
 const wk=d3.scaleBand().domain(d3.range(53)).range([o.px0,o.px1]);
 const x=d3.scaleLinear().domain([0,364]).range([o.px0,o.px1]);
 const smooth=hoursSlept.map((v,i)=>d3.mean(hoursSlept.slice(Math.max(0,i-30),i+31)));
 g.append("path").attr("d",d3.line().x((d,i)=>x(i)).y(d=>y(d)).curve(d3.curveBasis)(smooth)).attr("fill","none").attr("stroke","#4a74c9").attr("stroke-width",1.1);
 weekDots(g,wk,y,2.8,1.9,"#fff");
})();

// ---------- LOWER SHEET ----------
const lowGrid=svg.append("g").attr("stroke","#e9e9e9").attr("stroke-width",.6);
lowGrid.selectAll(".v").data(d3.range(-2,26)).join("line").attr("x1",d=>103.3+26*d).attr("x2",d=>103.3+26*d).attr("y1",2834).attr("y2",H);
lowGrid.selectAll(".h").data(d3.range(0,85)).join("line").attr("x1",0).attr("x2",W).attr("y1",d=>2834+13*d).attr("y2",d=>2834+13*d);
svg.append("line").attr("x1",338.3).attr("x2",338.3).attr("y1",2834).attr("y2",H).attr("stroke","#999").attr("stroke-width",.9);
svg.append("rect").attr("x",0).attr("y",2826.7).attr("width",W).attr("height",7.3).attr("fill","#000");
svg.append("rect").attr("x",36.7).attr("y",2841.7).attr("width",39.3).attr("height",15.6).attr("fill","#9900ff");
svg.append("text").attr("x",56.3).attr("y",2851).attr("text-anchor","middle").attr("font-size",4.5).attr("fill","#ddd").text("2018");

function whitePanel(b,title,tx,ty){
 panel(b[0],b[1],b[2],b[3],"#fff","#ddd");
 const g=svg.append("g");
 g.append("text").attr("x",tx).attr("y",ty).attr("font-size",6.8).attr("font-family","Roboto,sans-serif").attr("fill","#8a8a8a").text(title);
 return g;
}
function whiteAxis(g,o,ticks,y){
 g.selectAll("line.g").data(ticks).join("line").attr("x1",o.ax0).attr("x2",o.ax1).attr("y1",y).attr("y2",y).attr("stroke",d=>d?"#e6e6e6":"#999").attr("stroke-width",d=>d?.6:.7);
 g.selectAll("text.t").data(ticks).join("text").attr("x",o.ax0-1.5).attr("y",d=>y(d)+1.3).attr("text-anchor","end").attr("font-size",3.8).attr("fill","#999").text(d=>d);
 if(o.xl)g.append("text").attr("x",o.xl[0]).attr("y",o.xl[1]).attr("text-anchor","middle").attr("font-size",3.9).attr("fill","#888").text(o.xl[2]);
 if(o.yl)g.append("text").attr("transform",`translate(${o.yl[0]},${o.yl[1]}) rotate(-90)`).attr("text-anchor","middle").attr("font-size",3.9).attr("fill","#888").text("Hours");
}
function comboChart(o){
 const g=whitePanel(o.box,o.title,o.tx,2846);
 const y=d3.scaleLinear().domain([0,15]).range([2920.7,2861.7]);
 whiteAxis(g,o,[0,5,10,15],y);
 const x=d3.scaleLinear().domain([0,o.line.length-1]).range([o.x0,o.x1]);
 g.selectAll("rect").data(o.bars).join("rect").attr("x",(d,i)=>x(i)-o.bw/2).attr("width",o.bw).attr("y",d=>y(d)).attr("height",d=>y(0)-y(d)).attr("fill","#4a7fd6");
 g.append("path").attr("d",d3.line().x((d,i)=>x(i)).y(d=>y(d))(o.line)).attr("fill","none").attr("stroke","#c9675c").attr("stroke-width",.8);
 g.append("rect").attr("x",o.lx).attr("y",2851.3).attr("width",3.8).attr("height",3.8).attr("fill","#4a7fd6");
 g.append("rect").attr("x",o.lx+7.2).attr("y",2852.9).attr("width",4).attr("height",1).attr("fill","#c9675c");
}
comboChart({box:[102.7,2835,300,2939.3],title:"Sleep (red) vs Gf 1 (blue)",tx:107.3,ax0:125,ax1:296,x0:129.3,x1:283.7,bw:1,line:hoursSlept.slice(0,116),bars:girlfriend.slice(0,116),lx:195.4,xl:[211.7,2933,"Time"],yl:[111,2891.7]});
comboChart({box:[313.3,2835,511,2939.3],title:"Sleep (red) vs Gf 2 (blue)",tx:318,ax0:337.7,ax1:506,x0:341.7,x1:502.3,bw:3.9,line:gf2Sleep,bars:gf2Hours,lx:405.5,xl:[422,2933,"Time"],yl:[321,2891.7]});
function columnChart(o){
 const g=whitePanel(o.box,o.title,o.tx,o.ty);
 const y=d3.scaleLinear().domain([0,o.max]).range([o.py0,o.py1]);
 whiteAxis(g,o,o.ticks,y);
 const x=d3.scaleBand().domain(d3.range(365)).range([o.x0,o.x1]).padding(.1);
 g.selectAll("rect").data(o.v).join("rect").attr("x",(d,i)=>x(i)).attr("width",x.bandwidth()).attr("y",d=>y(d)).attr("height",d=>y(0)-y(d)).attr("fill",o.c);
}
columnChart({box:[102.3,2960.7,300,3084],title:"Social",tx:110,ty:2972.7,ax0:117.3,ax1:295,x0:117.3,x1:295,py0:3065,py1:2981.7,max:15,ticks:[0,5,10,15],v:social,c:"#2ee02e",xl:[206,3077,"Social"]});
columnChart({box:[313.3,2960.7,511,3085],title:"Gaming (dark yellow)",tx:319.3,ty:2973,ax0:339.3,ax1:505,x0:339.3,x1:505,py0:3065.7,py1:2982,max:10,ticks:[0,2,4,6,8,10],v:gaming,c:"#8c7320",xl:[422.3,3077,"Time"],yl:[322,3023]});
(function(){
 const o={ax0:120.3,ax1:300.7};
 const g=whitePanel([105.5,3093.8,306,3221],"Sleep (gray)",111.7,3106);
 const y=d3.scaleLinear().domain([0,15]).range([3212.6,3115]);
 whiteAxis(g,o,[0,5,10,15],y);
 const x=d3.scaleLinear().domain([0,364]).range([o.ax0,o.ax1]);
 g.append("path").attr("d",d3.line().x((d,i)=>x(i)).y(d=>y(d))(hoursSlept)).attr("fill","none").attr("stroke","#cfcfcf").attr("stroke-width",.9);
})();
const cSleep="#d4d4d4",cOrange="#e69138",cYel="#e8e020",cCyan="#25d6d6",cGreen="#10d010";
darkChart({title:"Grey Sleep, Orange Downtime, Green Social",box:[318,3093,618.6,3250.5],tx:325.2,ty:3107,px0:334.5,px1:610,py0:3238,py1:3115.8,series:[{v:hoursSlept,c:cSleep},{v:downtime,c:cOrange},{v:social,c:cGreen}],legend:[cOrange,cSleep,cGreen],lx:613.8,ly:3118.6});
darkChart({title:"Grey Sleep, Yellow Gaming",box:[102,3257,320.4,3371.3],tx:106.5,ty:3268,px0:116.9,px1:313.8,py0:3362.4,py1:3273.9,series:[{v:hoursSlept,c:cSleep},{v:gaming,c:cYel}],legend:[cYel,cSleep],lx:317,ly:3276.3});
darkChart({title:"Grey Sleep, Blue Gf",box:[339,3257,557.6,3371.3],tx:344,ty:3268,px0:353.4,px1:551.4,py0:3362.4,py1:3273.9,series:[{v:hoursSlept,c:cSleep},{v:girlfriend,c:cCyan}],legend:[cCyan,cSleep],lx:554,ly:3276.3});
darkChart({title:"Grey Sleep, Green Social",box:[105.5,3377,323.5,3491.5],tx:110,ty:3388,px0:119.3,px1:317.3,py0:3482.5,py1:3394,series:[{v:hoursSlept,c:cSleep},{v:social,c:cGreen}],legend:[cGreen,cSleep],lx:320.4,ly:3396.5});
</script>
</body></html>
